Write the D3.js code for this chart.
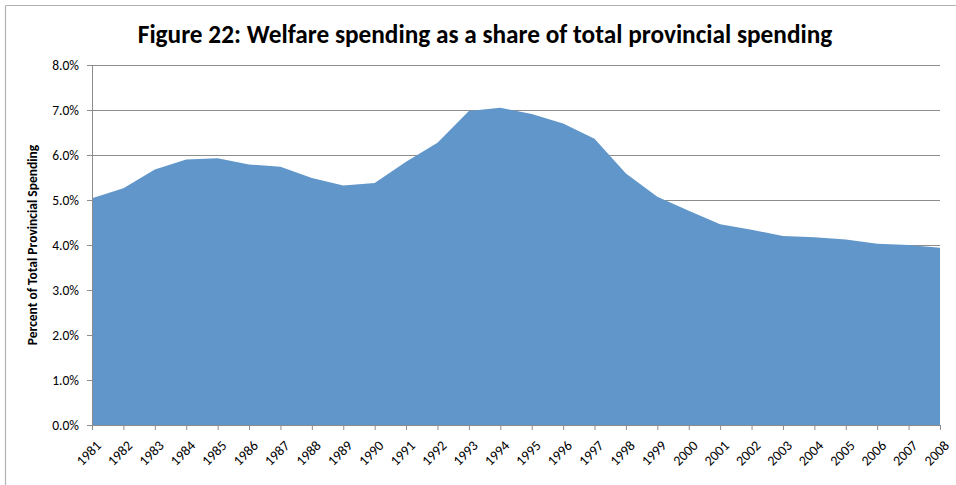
<!DOCTYPE html>
<html>
<head>
<meta charset="utf-8">
<script src="https://cdn.jsdelivr.net/npm/d3@7"></script>
<style>
  html, body { margin: 0; padding: 0; background: #fff; }
  svg { display: block; }
  text { font-family: Carlito, "Open Sans", "Liberation Sans", sans-serif; fill: #000; }
</style>
</head>
<body>
<svg id="chart" width="956" height="485"></svg>
<script>
// Welfare spending as a percent of total provincial spending, 1981-2008
const years = [1981, 1982, 1983, 1984, 1985, 1986, 1987, 1988, 1989, 1990,
               1991, 1992, 1993, 1994, 1995, 1996, 1997, 1998, 1999, 2000,
               2001, 2002, 2003, 2004, 2005, 2006, 2007, 2008];
const welfareShare = [5.04, 5.26, 5.68, 5.90, 5.93, 5.79, 5.74, 5.49, 5.32, 5.38,
                      5.85, 6.27, 6.98, 7.05, 6.91, 6.70, 6.36, 5.59, 5.07, 4.76,
                      4.46, 4.34, 4.20, 4.17, 4.12, 4.03, 4.00, 3.94];
const yTicks = [0, 1, 2, 3, 4, 5, 6, 7, 8];
const titleText = "Figure 22: Welfare spending as a share of total provincial spending";
const yAxisTitle = "Percent of Total Provincial Spending";

const FONT = "Carlito, 'Open Sans', 'Liberation Sans', sans-serif";
const svg = d3.select("#chart");
const margin = { left: 92, right: 16, top: 65, bottom: 60 };
const W = 956, H = 485;

// outer chart frame (top and left edges visible)
svg.append("line").attr("x1", 5.5).attr("x2", W).attr("y1", 5.5).attr("y2", 5.5)
  .attr("stroke", "#b3b3b3").attr("stroke-width", 1.2);
svg.append("line").attr("x1", 5.5).attr("x2", 5.5).attr("y1", 5.5).attr("y2", H)
  .attr("stroke", "#b3b3b3").attr("stroke-width", 1.2);

const x = d3.scalePoint().domain(years).range([margin.left, W - margin.right]);
const y = d3.scaleLinear().domain([0, 8]).range([H - margin.bottom, margin.top]);

// horizontal gridlines
svg.append("g").selectAll("line").data(yTicks.filter(d => d > 0)).join("line")
  .attr("x1", margin.left).attr("x2", W - margin.right)
  .attr("y1", d => Math.round(y(d)) + 0.5).attr("y2", d => Math.round(y(d)) + 0.5)
  .attr("stroke", "#8c8c8c").attr("stroke-width", 1);

// area
const area = d3.area()
  .x((d, i) => x(years[i]))
  .y0(y(0))
  .y1(d => y(d));
svg.append("path").datum(welfareShare)
  .attr("d", area)
  .attr("fill", "#6096c9");

// y axis
const yAxis = d3.axisLeft(y).tickValues(yTicks).tickSize(5).tickPadding(8)
  .tickFormat(d => d3.format(".1f")(d) + "%");
const gy = svg.append("g").attr("transform", `translate(${margin.left},0)`).call(yAxis);
gy.select(".domain").attr("stroke", "#8c8c8c");
gy.selectAll(".tick line").attr("stroke", "#8c8c8c");
gy.selectAll(".tick text").attr("font-size", 13.5).style("font-family", FONT);

// x axis
const xAxis = d3.axisBottom(x).tickSize(5).tickSizeOuter(0);
const gx = svg.append("g").attr("transform", `translate(0,${y(0)})`).call(xAxis);
gx.select(".domain").attr("stroke", "#8c8c8c");
gx.selectAll(".tick line").attr("stroke", "#8c8c8c");
gx.selectAll(".tick text")
  .attr("font-size", 14)
  .style("font-family", FONT)
  .attr("text-anchor", "end")
  .attr("y", 0).attr("dy", "0.35em")
  .attr("transform", "translate(6,18) rotate(-45)");

// title
svg.append("text")
  .attr("x", 485).attr("y", 43)
  .attr("text-anchor", "middle")
  .attr("font-size", 25.3).attr("font-weight", "bold")
  .text(titleText);

// y axis title
svg.append("text")
  .attr("transform", `translate(37,${y(4)}) rotate(-90)`)
  .attr("text-anchor", "middle")
  .attr("font-size", 13.5).attr("font-weight", "bold")
  .text(yAxisTitle);
</script>
</body>
</html>
